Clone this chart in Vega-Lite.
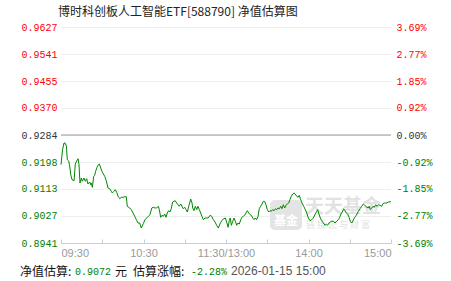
{
  "$schema": "https://vega.github.io/schema/vega-lite/v6.json",
  "autosize": {"type": "none"},
  "padding": {"left": 61, "top": 27, "right": 60, "bottom": 38},
  "width": 330,
  "height": 216,
  "background": "#ffffff",
  "view": {"stroke": null},
  "title": {
    "text": "博时科创板人工智能ETF[588790] 净值估算图",
    "anchor": "start",
    "frame": "group",
    "font": "Noto Sans CJK SC",
    "fontSize": 12,
    "fontWeight": "normal",
    "color": "#222222",
    "baseline": "alphabetic",
    "offset": 0,
    "dy": 6,
    "dx": -3
  },
  "datasets": {
    "nav": [
      {"t": 0, "v": 0.91897}, {"t": 1.1, "v": 0.92364}, {"t": 2.2, "v": 0.92586}, {"t": 2.9, "v": 0.92586},
      {"t": 3.9, "v": 0.92491}, {"t": 4.6, "v": 0.92056}, {"t": 5.6, "v": 0.92014}, {"t": 6.3, "v": 0.91856},
      {"t": 7.1, "v": 0.91579}, {"t": 8.0, "v": 0.9142}, {"t": 9.5, "v": 0.91389}, {"t": 10.0, "v": 0.91697},
      {"t": 10.4, "v": 0.91919}, {"t": 11.4, "v": 0.92014}, {"t": 12.4, "v": 0.92087}, {"t": 13.1, "v": 0.91897},
      {"t": 13.8, "v": 0.91316}, {"t": 14.8, "v": 0.91474}, {"t": 15.5, "v": 0.9137}, {"t": 16.7, "v": 0.91474},
      {"t": 17.7, "v": 0.9137}, {"t": 18.7, "v": 0.91452}, {"t": 19.6, "v": 0.91284}, {"t": 20.9, "v": 0.91347},
      {"t": 21.6, "v": 0.91262}, {"t": 22.0, "v": 0.91316}, {"t": 22.8, "v": 0.91179}, {"t": 23.8, "v": 0.91528},
      {"t": 24.5, "v": 0.9156}, {"t": 25.2, "v": 0.91687}, {"t": 26.2, "v": 0.91814}, {"t": 26.9, "v": 0.91878},
      {"t": 27.9, "v": 0.91919}, {"t": 28.9, "v": 0.91792}, {"t": 29.8, "v": 0.91687}, {"t": 30.8, "v": 0.91601},
      {"t": 31.8, "v": 0.91528}, {"t": 32.9, "v": 0.91389}, {"t": 34.2, "v": 0.91157}, {"t": 35.4, "v": 0.91135},
      {"t": 36.6, "v": 0.91052}, {"t": 37.3, "v": 0.90998}, {"t": 38.5, "v": 0.91052}, {"t": 39.5, "v": 0.91103},
      {"t": 40.5, "v": 0.9102}, {"t": 41.5, "v": 0.90893}, {"t": 42.7, "v": 0.90817}, {"t": 43.9, "v": 0.90861},
      {"t": 45.1, "v": 0.90861}, {"t": 46.3, "v": 0.9088}, {"t": 47.5, "v": 0.9088}, {"t": 48.2, "v": 0.90576},
      {"t": 50.0, "v": 0.90522}, {"t": 51.1, "v": 0.90468}, {"t": 52.4, "v": 0.90363}, {"t": 53.6, "v": 0.90258},
      {"t": 54.8, "v": 0.9015}, {"t": 56.0, "v": 0.90045}, {"t": 57.2, "v": 0.90045}, {"t": 58.4, "v": 0.89886},
      {"t": 59.9, "v": 0.90029}, {"t": 61.1, "v": 0.9015}, {"t": 62.3, "v": 0.90204}, {"t": 63.5, "v": 0.90258},
      {"t": 64.7, "v": 0.90309}, {"t": 66.0, "v": 0.90522}, {"t": 67.1, "v": 0.90544}, {"t": 68.4, "v": 0.90522},
      {"t": 69.6, "v": 0.90522}, {"t": 70.8, "v": 0.90576}, {"t": 71.5, "v": 0.90468}, {"t": 72.5, "v": 0.90226},
      {"t": 73.5, "v": 0.9029}, {"t": 74.4, "v": 0.90258}, {"t": 75.4, "v": 0.90331}, {"t": 76.4, "v": 0.90226},
      {"t": 77.3, "v": 0.90363}, {"t": 78.3, "v": 0.90436}, {"t": 79.3, "v": 0.90395}, {"t": 80.2, "v": 0.90499},
      {"t": 81.2, "v": 0.90712}, {"t": 82.2, "v": 0.90734}, {"t": 83.1, "v": 0.90753}, {"t": 84.1, "v": 0.9068},
      {"t": 85.1, "v": 0.90626}, {"t": 86.0, "v": 0.90576}, {"t": 87.1, "v": 0.90649}, {"t": 88.0, "v": 0.90576},
      {"t": 88.9, "v": 0.90499}, {"t": 90.0, "v": 0.90544}, {"t": 90.9, "v": 0.90468}, {"t": 91.9, "v": 0.90395},
      {"t": 92.9, "v": 0.90576}, {"t": 93.8, "v": 0.90712}, {"t": 94.3, "v": 0.90807}, {"t": 95.3, "v": 0.9068},
      {"t": 95.8, "v": 0.90522}, {"t": 96.7, "v": 0.90436}, {"t": 97.7, "v": 0.90576}, {"t": 98.7, "v": 0.90468},
      {"t": 99.6, "v": 0.90576}, {"t": 100.6, "v": 0.90468}, {"t": 101.6, "v": 0.90363}, {"t": 102.5, "v": 0.90258},
      {"t": 103.5, "v": 0.9015}, {"t": 104.7, "v": 0.90204}, {"t": 106.0, "v": 0.90204}, {"t": 107.1, "v": 0.90204},
      {"t": 108.4, "v": 0.9029}, {"t": 109.6, "v": 0.90258}, {"t": 110.8, "v": 0.9015}, {"t": 112.0, "v": 0.90077},
      {"t": 113.2, "v": 0.89972}, {"t": 114.4, "v": 0.89886}, {"t": 115.6, "v": 0.90013}, {"t": 116.9, "v": 0.90118},
      {"t": 118.0, "v": 0.90172}, {"t": 119.5, "v": 0.90204}, {"t": 120.7, "v": 0.90045}, {"t": 121.5, "v": 0.89909},
      {"t": 122.4, "v": 0.90118}, {"t": 123.1, "v": 0.90204}, {"t": 123.9, "v": 0.89972}, {"t": 124.9, "v": 0.90099},
      {"t": 125.8, "v": 0.90204}, {"t": 126.8, "v": 0.90099}, {"t": 127.8, "v": 0.89972}, {"t": 128.7, "v": 0.90045},
      {"t": 129.7, "v": 0.90013}, {"t": 130.7, "v": 0.9015}, {"t": 131.6, "v": 0.90226}, {"t": 132.6, "v": 0.90258},
      {"t": 133.6, "v": 0.9029}, {"t": 134.5, "v": 0.90363}, {"t": 135.5, "v": 0.90436}, {"t": 136.5, "v": 0.90363},
      {"t": 137.5, "v": 0.90309}, {"t": 138.4, "v": 0.9029}, {"t": 139.4, "v": 0.90204}, {"t": 140.4, "v": 0.9015},
      {"t": 141.3, "v": 0.90204}, {"t": 142.3, "v": 0.9015}, {"t": 143.3, "v": 0.90258}, {"t": 144.2, "v": 0.90499},
      {"t": 145.2, "v": 0.90576}, {"t": 146.2, "v": 0.90649}, {"t": 147.1, "v": 0.90734}, {"t": 148.1, "v": 0.90734},
      {"t": 149.1, "v": 0.90626}, {"t": 150.0, "v": 0.90468}, {"t": 151.1, "v": 0.90395}, {"t": 152.0, "v": 0.90436},
      {"t": 152.9, "v": 0.90417}, {"t": 153.9, "v": 0.90468}, {"t": 154.9, "v": 0.90436}, {"t": 155.9, "v": 0.90499},
      {"t": 156.9, "v": 0.90468}, {"t": 157.8, "v": 0.90522}, {"t": 158.8, "v": 0.90499}, {"t": 159.8, "v": 0.90576},
      {"t": 160.7, "v": 0.90499}, {"t": 161.7, "v": 0.90626}, {"t": 162.7, "v": 0.90522}, {"t": 163.6, "v": 0.90607},
      {"t": 164.6, "v": 0.90649}, {"t": 165.6, "v": 0.9068}, {"t": 166.5, "v": 0.90785}, {"t": 167.5, "v": 0.90893},
      {"t": 168.5, "v": 0.90966}, {"t": 169.5, "v": 0.90998}, {"t": 170.4, "v": 0.90966}, {"t": 171.4, "v": 0.90893},
      {"t": 172.4, "v": 0.90861}, {"t": 173.3, "v": 0.90925}, {"t": 174.3, "v": 0.90785}, {"t": 175.3, "v": 0.9068},
      {"t": 176.5, "v": 0.90576}, {"t": 177.7, "v": 0.90468}, {"t": 178.7, "v": 0.90363}, {"t": 179.9, "v": 0.90204},
      {"t": 181.1, "v": 0.90118}, {"t": 182.3, "v": 0.9015}, {"t": 183.5, "v": 0.90204}, {"t": 184.7, "v": 0.90309},
      {"t": 186.0, "v": 0.90417}, {"t": 186.7, "v": 0.90468}, {"t": 187.6, "v": 0.90331}, {"t": 188.6, "v": 0.90204},
      {"t": 189.6, "v": 0.90118}, {"t": 190.8, "v": 0.90045}, {"t": 192.0, "v": 0.89972}, {"t": 192.9, "v": 0.90013},
      {"t": 193.9, "v": 0.89972}, {"t": 194.9, "v": 0.90045}, {"t": 195.9, "v": 0.90077}, {"t": 196.9, "v": 0.90099},
      {"t": 198.0, "v": 0.90099}, {"t": 199.3, "v": 0.90045}, {"t": 200.5, "v": 0.90099}, {"t": 201.7, "v": 0.9015},
      {"t": 202.7, "v": 0.90226}, {"t": 203.6, "v": 0.90331}, {"t": 204.6, "v": 0.90395}, {"t": 205.6, "v": 0.90499},
      {"t": 206.5, "v": 0.90436}, {"t": 207.5, "v": 0.90363}, {"t": 208.5, "v": 0.90331}, {"t": 209.5, "v": 0.90226},
      {"t": 210.4, "v": 0.90099}, {"t": 211.4, "v": 0.90045}, {"t": 212.4, "v": 0.90118}, {"t": 213.3, "v": 0.90204},
      {"t": 214.3, "v": 0.90258}, {"t": 215.3, "v": 0.90331}, {"t": 216.2, "v": 0.90417}, {"t": 217.5, "v": 0.90499},
      {"t": 218.7, "v": 0.90576}, {"t": 219.9, "v": 0.90649}, {"t": 220.6, "v": 0.90626}, {"t": 221.6, "v": 0.90576},
      {"t": 222.5, "v": 0.90544}, {"t": 223.5, "v": 0.90522}, {"t": 224.2, "v": 0.90576}, {"t": 224.9, "v": 0.90468},
      {"t": 225.9, "v": 0.90522}, {"t": 226.9, "v": 0.90576}, {"t": 227.8, "v": 0.90544}, {"t": 228.9, "v": 0.90626},
      {"t": 229.8, "v": 0.90576}, {"t": 230.8, "v": 0.90626}, {"t": 232.0, "v": 0.90607}, {"t": 233.2, "v": 0.90576},
      {"t": 234.2, "v": 0.90658}, {"t": 235.1, "v": 0.9068}, {"t": 236.1, "v": 0.9068}, {"t": 237.1, "v": 0.9068},
      {"t": 238.0, "v": 0.90712}, {"t": 240.0, "v": 0.9072}
    ]
  },
  "layer": [
    {
      "data": {"values": [{}]},
      "mark": {"type": "rect", "fill": "#e4e4e4", "cornerRadius": 5},
      "encoding": {"x": {"value": 209}, "x2": {"value": 241}, "y": {"value": 173}, "y2": {"value": 203}}
    },
    {
      "data": {"values": [{}]},
      "mark": {"type": "text", "text": "基金", "font": "Noto Sans CJK SC", "fontSize": 12, "fontWeight": "bold", "fill": "#ffffff", "align": "center", "baseline": "middle"},
      "encoding": {"x": {"value": 225}, "y": {"value": 194}}
    },
    {
      "data": {"values": [{}]},
      "mark": {"type": "text", "text": "天天基金", "font": "Noto Sans CJK SC", "fontSize": 19, "fontWeight": "bold", "fill": "#e2e2e2", "align": "left", "baseline": "middle"},
      "encoding": {"x": {"value": 244}, "y": {"value": 180}}
    },
    {
      "data": {"values": [{}]},
      "mark": {"type": "text", "text": "链 接 您 与 财 富", "font": "Noto Sans CJK SC", "fontSize": 9, "fill": "#e2e2e2", "align": "left", "baseline": "middle"},
      "encoding": {"x": {"value": 245}, "y": {"value": 198}}
    },
    {
      "data": {"values": [{}]},
      "mark": {"type": "rule", "stroke": "#999999", "strokeWidth": 1},
      "encoding": {
        "y": {
          "datum": 0.9284,
          "type": "quantitative",
          "scale": {"domain": [0.8941, 0.9627], "nice": false, "zero": false},
          "axis": {
            "orient": "right",
            "title": null,
            "values": [0.8941, 0.9027, 0.9113, 0.9198, 0.9284, 0.937, 0.9455, 0.9541, 0.9627],
            "labelExpr": "datum.value>0.96?'3.69%':datum.value>0.95?'2.77%':datum.value>0.94?'1.85%':datum.value>0.933?'0.92%':datum.value>0.925?'0.00%':datum.value>0.915?'-0.92%':datum.value>0.907?'-1.85%':datum.value>0.898?'-2.77%':'-3.69%'",
            "domain": false,
            "ticks": false,
            "grid": false,
            "labelPadding": 5,
            "labelFont": "Liberation Mono",
            "labelFontSize": 10,
            "labelColor": {"condition": [{"test": "datum.value > 0.929", "value": "#ff0000"}, {"test": "datum.value > 0.928", "value": "#333333"}], "value": "#008000"}
          }
        }
      }
    },
    {
      "data": {"name": "nav"},
      "mark": {"type": "line", "stroke": "#008800", "strokeWidth": 1},
      "encoding": {
        "x": {
          "field": "t",
          "type": "quantitative",
          "scale": {"domain": [0, 240], "nice": false, "zero": false},
          "axis": {
            "title": null,
            "values": [0, 30, 60, 90, 120, 150, 180, 210, 240],
            "labelExpr": "datum.value==0?'09:30':datum.value==60?'10:30':datum.value==120?'11:30/13:00':datum.value==180?'14:00':datum.value==240?'15:00':''",
            "labelFlush": true,
            "grid": false,
            "domainColor": "#c4d0dc",
            "tickColor": "#c4d0dc",
            "tickSize": -4,
            "labelPadding": 8,
            "labelColor": "#999999",
            "labelFont": "Liberation Sans",
            "labelFontSize": 11
          }
        },
        "y": {
          "field": "v",
          "type": "quantitative",
          "scale": {"domain": [0.8941, 0.9627], "nice": false, "zero": false},
          "axis": {
            "orient": "left",
            "title": null,
            "values": [0.8941, 0.9027, 0.9113, 0.9198, 0.9284, 0.937, 0.9455, 0.9541, 0.9627],
            "labelExpr": "format(datum.value, '.4f')",
            "domain": false,
            "ticks": false,
            "grid": true,
            "gridColor": "#dddddd",
            "gridDash": [1, 1],
            "labelPadding": 4,
            "labelFont": "Liberation Mono",
            "labelFontSize": 10,
            "labelColor": {"condition": [{"test": "datum.value > 0.929", "value": "#ff0000"}, {"test": "datum.value > 0.928", "value": "#333333"}], "value": "#008000"}
          }
        }
      }
    },
    {
      "data": {"values": [{}]},
      "mark": {"type": "text", "text": "净值估算:", "font": "Noto Sans CJK SC", "fontSize": 12, "fill": "#111111", "align": "left", "baseline": "alphabetic"},
      "encoding": {"x": {"value": -41}, "y": {"value": 249}}
    },
    {
      "data": {"values": [{}]},
      "mark": {"type": "text", "text": "0.9072", "font": "Liberation Mono", "fontSize": 10, "fill": "#008000", "align": "left", "baseline": "alphabetic"},
      "encoding": {"x": {"value": 14}, "y": {"value": 248}}
    },
    {
      "data": {"values": [{}]},
      "mark": {"type": "text", "text": "元", "font": "Noto Sans CJK SC", "fontSize": 12, "fill": "#111111", "align": "left", "baseline": "alphabetic"},
      "encoding": {"x": {"value": 54}, "y": {"value": 249}}
    },
    {
      "data": {"values": [{}]},
      "mark": {"type": "text", "text": "估算涨幅:", "font": "Noto Sans CJK SC", "fontSize": 12, "fill": "#111111", "align": "left", "baseline": "alphabetic"},
      "encoding": {"x": {"value": 72}, "y": {"value": 249}}
    },
    {
      "data": {"values": [{}]},
      "mark": {"type": "text", "text": "-2.28%", "font": "Liberation Mono", "fontSize": 10, "fill": "#008000", "align": "left", "baseline": "alphabetic"},
      "encoding": {"x": {"value": 130}, "y": {"value": 248}}
    },
    {
      "data": {"values": [{}]},
      "mark": {"type": "text", "text": "2026-01-15 15:00", "font": "Liberation Sans", "fontSize": 12, "fill": "#555555", "align": "left", "baseline": "alphabetic"},
      "encoding": {"x": {"value": 170}, "y": {"value": 248}}
    }
  ],
  "resolve": {"scale": {"y": "independent"}}
}
